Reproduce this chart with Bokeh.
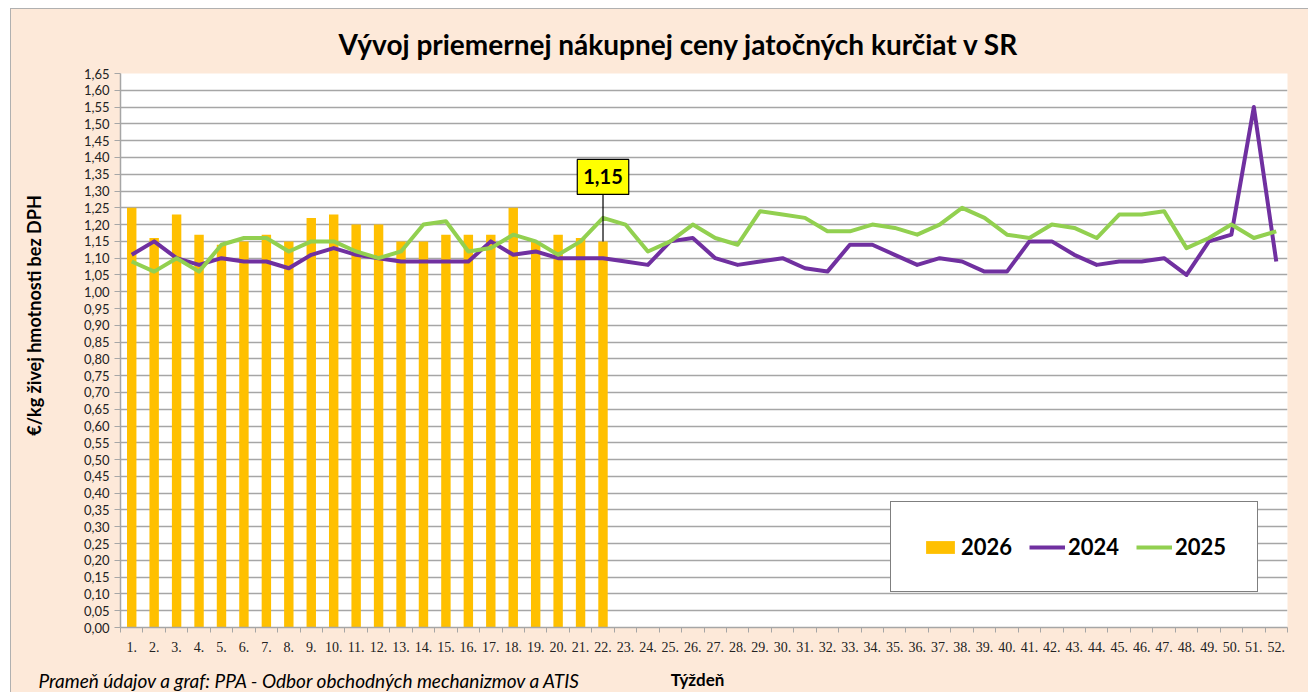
import math
from bokeh.plotting import figure
from bokeh.layouts import column, row
from bokeh.models import (Range1d, FixedTicker, CustomJSTickFormatter, Label,
                          Legend, LegendItem, ColumnDataSource, Title)
from bokeh.embed import file_html
from bokeh.resources import INLINE

# ---------------- data ----------------
weeks = list(range(1, 53))

weeks_2026 = list(range(1, 23))
price_2026 = [1.25, 1.16, 1.23, 1.17, 1.14, 1.15, 1.17, 1.15, 1.22, 1.23, 1.20,
              1.20, 1.15, 1.15, 1.17, 1.17, 1.17, 1.25, 1.15, 1.17, 1.16, 1.15]

price_2024 = [1.11, 1.15, 1.10, 1.08, 1.10, 1.09, 1.09, 1.07, 1.11, 1.13, 1.11,
              1.10, 1.09, 1.09, 1.09, 1.09, 1.15, 1.11, 1.12, 1.10, 1.10, 1.10,
              1.09, 1.08, 1.15, 1.16, 1.10, 1.08, 1.09, 1.10, 1.07, 1.06, 1.14,
              1.14, 1.11, 1.08, 1.10, 1.09, 1.06, 1.06, 1.15, 1.15, 1.11, 1.08,
              1.09, 1.09, 1.10, 1.05, 1.15, 1.17, 1.55, 1.09]

price_2025 = [1.09, 1.06, 1.10, 1.06, 1.14, 1.16, 1.16, 1.12, 1.15, 1.15, 1.12,
              1.10, 1.12, 1.20, 1.21, 1.12, 1.13, 1.17, 1.15, 1.11, 1.15, 1.22,
              1.20, 1.12, 1.15, 1.20, 1.16, 1.14, 1.24, 1.23, 1.22, 1.18, 1.18,
              1.20, 1.19, 1.17, 1.20, 1.25, 1.22, 1.17, 1.16, 1.20, 1.19, 1.16,
              1.23, 1.23, 1.24, 1.13, 1.16, 1.20, 1.16, 1.18]

y_ticks = [round(i * 0.05, 2) for i in range(0, 34)]

title_text = "Vývoj priemernej nákupnej ceny jatočných kurčiat v SR"
y_title = "€/kg živej hmotnosti bez DPH"
x_title = "Týždeň"
source_text = "Prameň údajov a graf: PPA - Odbor obchodných mechanizmov a ATIS"

# ---------------- styles ----------------
BG = "#FDE9D9"
GRID = "#A6A6A6"
C2026 = "#FFC000"
C2024 = "#7030A0"
C2025 = "#92D050"
SANS = "Lato"
SERIF = "Liberation Serif"

LEFT_W = 60            # strip holding the y-axis title
MAIN_W, MAIN_H = 1237, 651
FOOT_H = 32
ML, MR, MT, MB = 49, 21, 64, 33
frame_h = MAIN_H - MT - MB


def blank(width, height):
    f = figure(width=width, height=height, output_backend="svg", toolbar_location=None,
               x_axis_type=None, y_axis_type=None, min_border=0,
               styles={"background-color": BG})
    f.border_fill_color = BG
    f.background_fill_color = BG
    f.outline_line_color = None
    f.grid.visible = False
    return f


p = figure(width=MAIN_W, height=MAIN_H, output_backend="svg", toolbar_location=None,
           x_range=Range1d(0.5, 52.5), y_range=Range1d(0, 1.65),
           min_border_left=ML, min_border_right=MR, min_border_top=MT,
           min_border_bottom=MB, styles={"background-color": BG})
p.border_fill_color = BG
p.background_fill_color = "white"
p.outline_line_color = None

# axes
p.xaxis.ticker = FixedTicker(ticks=weeks, minor_ticks=[w - 0.5 for w in weeks] + [52.5])
p.xaxis.formatter = CustomJSTickFormatter(code="return tick + '.'")
p.xaxis.major_tick_out = 0
p.xaxis.major_tick_in = 0
p.xaxis.minor_tick_out = 5
p.xaxis.minor_tick_in = 0
p.xaxis.minor_tick_line_color = GRID
p.xaxis.axis_line_color = GRID
p.xaxis.axis_line_width = 1.5
p.xaxis.major_label_text_font = SERIF
p.xaxis.major_label_text_font_size = "14px"
p.xaxis.major_label_text_color = "#222222"
p.xaxis.major_label_standoff = 9

p.yaxis.ticker = FixedTicker(ticks=y_ticks, minor_ticks=[])
p.yaxis.formatter = CustomJSTickFormatter(code="return tick.toFixed(2).replace('.', ',')")
p.yaxis.major_tick_out = 6
p.yaxis.major_tick_in = 0
p.yaxis.major_tick_line_color = GRID
p.yaxis.axis_line_color = GRID
p.yaxis.axis_line_width = 1.5
p.yaxis.major_label_text_font = SANS
p.yaxis.major_label_text_font_size = "13px"
p.yaxis.major_label_text_color = "#222222"
p.yaxis.major_label_standoff = 5

p.xgrid.grid_line_color = None
p.ygrid.ticker = FixedTicker(ticks=y_ticks)
p.ygrid.grid_line_color = GRID
p.ygrid.grid_line_width = 1.3

# glyphs
src26 = ColumnDataSource(dict(x=weeks_2026, y=price_2026))
r26 = p.vbar(x="x", top="y", width=0.42, source=src26, fill_color=C2026,
             line_color=None)
r24 = p.line(weeks, price_2024, line_color=C2024, line_width=4, line_join="round")
r25 = p.line(weeks, price_2025, line_color=C2025, line_width=4, line_join="round")

# annotation of the last 2026 value
last_w = weeks_2026[-1]
last_v = price_2026[-1]
px_per_unit = frame_h / 1.65
leader_px = 47
p.segment(x0=[last_w], y0=[last_v], x1=[last_w], y1=[last_v + leader_px / px_per_unit],
          line_color="black", line_width=1.2)
p.add_layout(Label(x=last_w, y=last_v, y_offset=leader_px, text=f"{last_v:.2f}".replace(".", ","),
                   text_align="center", text_baseline="bottom",
                   text_font=SANS, text_font_style="bold", text_font_size="20px",
                   text_color="black", background_fill_color="#FFFF00",
                   border_line_color="black", border_line_width=1.2, padding=(6, 10)))

# legend
legend = Legend(items=[LegendItem(label="2026", renderers=[r26]),
                       LegendItem(label="2024", renderers=[r24]),
                       LegendItem(label="2025", renderers=[r25])],
                orientation="horizontal", location=(770, 35),
                label_text_font=SANS, label_text_font_style="bold",
                label_text_font_size="22px", label_text_color="black",
                glyph_width=36, glyph_height=16, label_standoff=3, spacing=17,
                padding=31, margin=0, border_line_color="black",
                border_line_width=1.5, background_fill_color="white",
                background_fill_alpha=1.0)
p.add_layout(legend, "center")

# main title
p.add_layout(Title(text=title_text, align="left", offset=218, standoff=26,
                   text_font=SANS, text_font_style="bold", text_font_size="28px",
                   text_color="black"), "above")

# y-axis title strip
p_left = blank(LEFT_W, MAIN_H)
p_left.add_layout(Label(x=22, y=312, x_units="screen", y_units="screen", text=y_title,
                        angle=math.pi / 2, text_align="center", text_baseline="middle",
                        text_font=SANS, text_font_style="bold", text_font_size="18px",
                        text_color="black"))

# footer strip: x-axis title and source
p_foot = blank(LEFT_W + MAIN_W, FOOT_H)
p_foot.add_layout(Label(x=686, y=13, x_units="screen", y_units="screen", text=x_title,
                        text_align="center", text_baseline="middle", text_font=SANS,
                        text_font_style="bold", text_font_size="17px", text_color="black"))
p_foot.add_layout(Label(x=27, y=12, x_units="screen", y_units="screen", text=source_text,
                        text_align="left", text_baseline="middle", text_font=SANS,
                        text_font_style="italic", text_font_size="19px", text_color="black"))

layout = column(row(p_left, p, styles={"background-color": BG}), p_foot,
                styles={"margin-left": "10px", "margin-top": "8px",
                        "background-color": BG,
                        "border-top": "1px solid #B0B0B0",
                        "border-left": "1px solid #B0B0B0"})

open("out.html", "w").write(file_html(layout, INLINE))
